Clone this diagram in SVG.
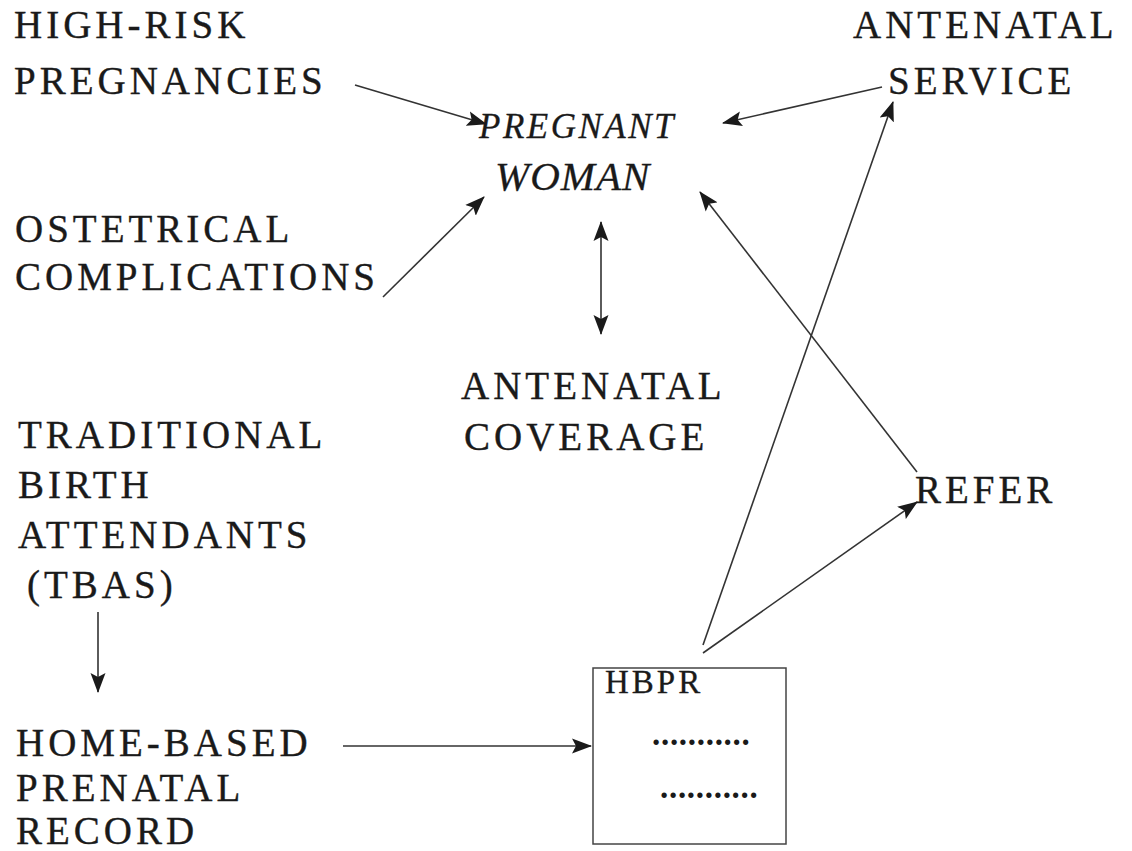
<svg xmlns="http://www.w3.org/2000/svg" width="1132" height="851" viewBox="0 0 1132 851">
  <style>
    .t { font-family: "Liberation Serif", "Times New Roman", serif; font-size: 39px; fill: #1a1a1a; stroke: #1a1a1a; stroke-width: 0.35; letter-spacing: 4px; }
    .it { font-family: "Liberation Serif", "Times New Roman", serif; font-style: italic; fill: #1a1a1a; stroke: #1a1a1a; stroke-width: 0.3; }
    .sm { font-family: "Liberation Serif", "Times New Roman", serif; font-size: 33px; fill: #1a1a1a; stroke: #1a1a1a; stroke-width: 0.3; letter-spacing: 3px; }
    .dots { font-family: "Liberation Serif", "Times New Roman", serif; font-size: 33px; fill: #1a1a1a; font-weight: bold; letter-spacing: 0.7px; }
    .c { stroke: #333; stroke-width: 1.6; fill: none; }
    .box { stroke: #444; stroke-width: 1.5; fill: #fff; }
  </style>
  <defs>
    <marker id="ah" markerUnits="userSpaceOnUse" markerWidth="22" markerHeight="16" refX="19" refY="8" orient="auto">
      <path d="M0,0.5 L20,8 L0,15.5 L4,8 z" fill="#1a1a1a"/>
    </marker>
    <marker id="ahs" markerUnits="userSpaceOnUse" markerWidth="22" markerHeight="16" refX="19" refY="8" orient="auto-start-reverse">
      <path d="M0,0.5 L20,8 L0,15.5 L4,8 z" fill="#1a1a1a"/>
    </marker>
  </defs>

  <g id="connectors">
    <line class="c" x1="355" y1="85" x2="486" y2="124" marker-end="url(#ah)"/>
    <line class="c" x1="383" y1="297" x2="484" y2="197" marker-end="url(#ah)"/>
    <line class="c" x1="882" y1="87" x2="723" y2="123" marker-end="url(#ah)"/>
    <line class="c" x1="601" y1="222" x2="601" y2="334" marker-start="url(#ahs)" marker-end="url(#ah)"/>
    <line class="c" x1="703" y1="645" x2="893" y2="102" marker-end="url(#ah)"/>
    <line class="c" x1="917" y1="472" x2="700" y2="192" marker-end="url(#ah)"/>
    <line class="c" x1="703" y1="653" x2="917" y2="502" marker-end="url(#ah)"/>
    <line class="c" x1="98" y1="612" x2="98" y2="692" marker-end="url(#ah)"/>
    <line class="c" x1="343" y1="746" x2="591" y2="746" marker-end="url(#ah)"/>
  </g>

  <g id="high-risk">
    <text class="t" x="14" y="38">HIGH-RISK</text>
    <text class="t" x="14" y="94">PREGNANCIES</text>
  </g>
  <g id="antenatal-service">
    <text class="t" x="853" y="38">ANTENATAL</text>
    <text class="t" x="888" y="94">SERVICE</text>
  </g>
  <g id="pregnant-woman">
    <text class="it" x="479" y="138" font-size="35" letter-spacing="2.5">PREGNANT</text>
    <text class="it" x="495" y="190" font-size="41" letter-spacing="1">WOMAN</text>
  </g>
  <g id="obstetrical">
    <text class="t" x="15" y="242">OSTETRICAL</text>
    <text class="t" x="15" y="290">COMPLICATIONS</text>
  </g>
  <g id="antenatal-coverage">
    <text class="t" x="461" y="399">ANTENATAL</text>
    <text class="t" x="464" y="450">COVERAGE</text>
  </g>
  <g id="tbas">
    <text class="t" x="18" y="448">TRADITIONAL</text>
    <text class="t" x="18" y="498">BIRTH</text>
    <text class="t" x="18" y="548">ATTENDANTS</text>
    <text class="t" x="27" y="598">(TBAS)</text>
  </g>
  <g id="refer">
    <text class="t" x="915" y="503">REFER</text>
  </g>
  <g id="home-based">
    <text class="t" x="16" y="756">HOME-BASED</text>
    <text class="t" x="16" y="801">PRENATAL</text>
    <text class="t" x="16" y="844">RECORD</text>
  </g>
  <g id="hbpr">
    <rect class="box" x="593" y="668" width="193" height="176"/>
    <text class="sm" x="605" y="693">HBPR</text>
    <text class="dots" x="652" y="745">...........</text>
    <text class="dots" x="660" y="798">...........</text>
  </g>
</svg>
